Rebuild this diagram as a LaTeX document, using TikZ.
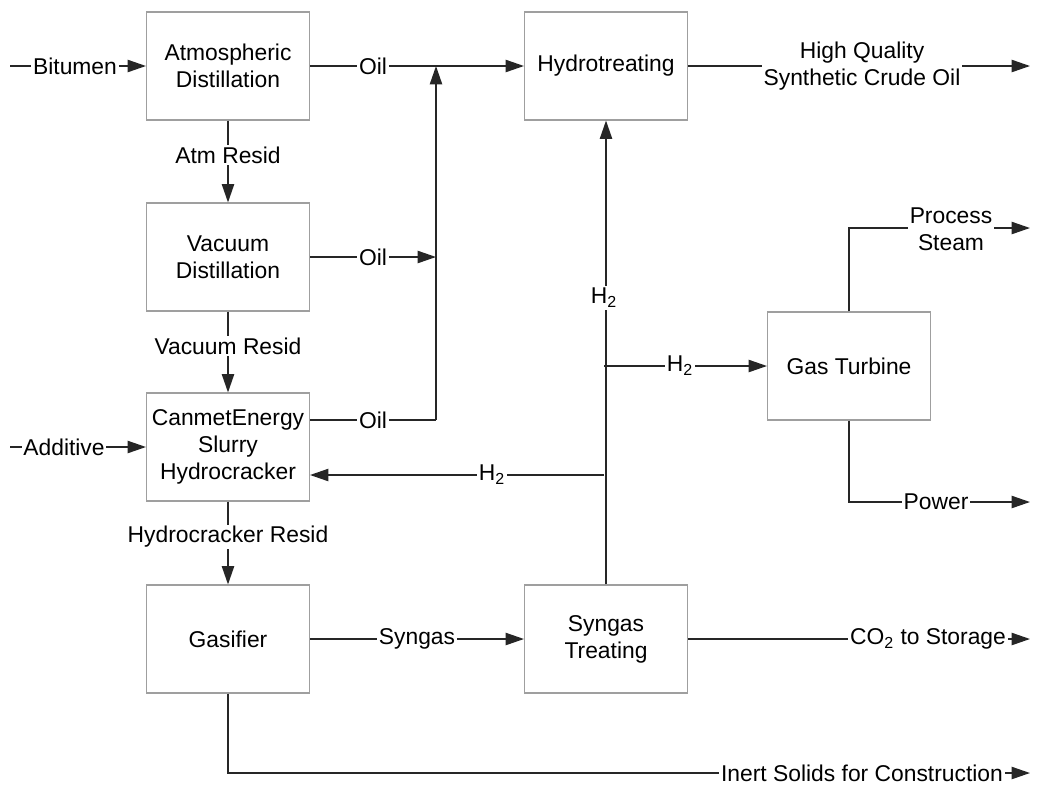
\documentclass[tikz,border=0pt]{standalone}
\usepackage{fontspec}
\setmainfont{Liberation Sans}
\usetikzlibrary{arrows.meta}
\begin{document}
\begin{tikzpicture}[x=0.02cm,y=-0.02cm,
 font=\fontsize{13pt}{15.5pt}\selectfont,
 box/.style={draw=gray!75, line width=0.6pt, minimum width=3.26cm, minimum height=2.16cm, align=center, inner sep=2pt},
 flow/.style={draw=black!85, line width=0.9pt},
 arr/.style={flow, -{Triangle[length=10.5pt,width=7pt]}},
 lbl/.style={fill=white, inner xsep=1pt, inner ysep=1pt, align=center}]
\useasboundingbox (0,0) rectangle (1037,785);
% process boxes
\node[box] (atm) at (228,66) {Atmospheric\\Distillation};
\node[box] (vac) at (228,257) {Vacuum\\Distillation};
\node[box] (hc)  at (228,447) {CanmetEnergy\\Slurry\\Hydrocracker};
\node[box] (gas) at (228,639) {Gasifier};
\node[box] (hyd) at (606,66) {Hydrotreating};
\node[box] (st)  at (606,639) {Syngas\\Treating};
\node[box] (gt)  at (849,366) {Gas Turbine};
% free ends and junctions
\coordinate (bitin) at (10,66);
\coordinate (addin) at (10,447);
\coordinate (j1) at (436,66);
\coordinate (j2) at (436,257);
\coordinate (j3) at (436,420);
\coordinate (h2a) at (604,366);
\coordinate (h2b) at (604,475);
\coordinate (hqout) at (1030,66);
\coordinate (psbend) at (849,228);
\coordinate (psout) at (1030,228);
\coordinate (pwbend) at (849,502);
\coordinate (pwout) at (1030,502);
\coordinate (co2out) at (1030,639);
\coordinate (inbend) at (228,773);
\coordinate (inout) at (1030,773);
% connectors
\draw[arr] (bitin) -- (atm.west);
\draw[arr] (addin) -- (hc.west);
\draw[arr] (atm.east) -- (hyd.west);
\draw[arr] (vac.east) -- (j2);
\draw[flow] (hc.east |- j3) -- (j3);
\draw[arr] (j3) -- (j1);
\draw[arr] (atm.south) -- (vac.north);
\draw[arr] (vac.south) -- (hc.north);
\draw[arr] (hc.south) -- (gas.north);
\draw[arr] (gas.east) -- (st.west);
\draw[arr] (st.north) -- (hyd.south);
\draw[arr] (h2a) -- (gt.west);
\draw[arr] (h2b) -- (hc.east |- h2b);
\draw[arr] (hyd.east) -- (hqout);
\draw[arr] (gt.north) -- (psbend) -- (psout);
\draw[arr] (gt.south) -- (pwbend) -- (pwout);
\draw[arr] (st.east) -- (co2out);
\draw[arr] (gas.south) -- (inbend) -- (inout);
% labels
\node[lbl] (l1) at (75,66) {Bitumen};
\node[lbl] (l2) at (373,66) {Oil};
\node[lbl] (l3) at (373,257) {Oil};
\node[lbl] (l4) at (373,420) {Oil};
\node[lbl] (l5) at (228,155) {Atm Resid};
\node[lbl] (l6) at (228,346) {Vacuum Resid};
\node[lbl] (l7) at (228,537) {Hydrocracker Resid};
\node[lbl] (l8) at (64,447) {Additive};
\node[lbl] (l9) at (604,298) {H\textsubscript{2}};
\node[lbl] (l10) at (680,366) {H\textsubscript{2}};
\node[lbl] (l11) at (492,475) {H\textsubscript{2}};
\node[lbl] (l12) at (417,639) {Syngas};
\node[lbl] (l13) at (928,639) {CO\textsubscript{2} to Storage};
\node[lbl] (l14) at (862,773) {Inert Solids for Construction};
\node[lbl] (l15) at (862,66) {High Quality\\Synthetic Crude Oil};
\node[lbl] (l16) at (951,229) {Process\\Steam};
\node[lbl] (l17) at (936,502) {Power};
\end{tikzpicture}
\end{document}
